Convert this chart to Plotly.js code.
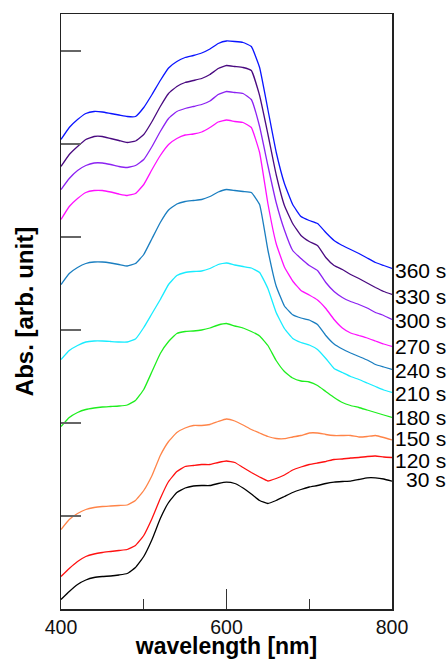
<!DOCTYPE html>
<html>
<head>
<meta charset="utf-8">
<script src="https://cdn.plot.ly/plotly-3.0.1.min.js"></script>
<style>html,body{margin:0;padding:0;background:#fff;}#chart{width:448px;height:659px;}</style>
</head>
<body>
<div id="chart"></div>
<script>
// wavelength in nm
const wavelength = [400,410,420,430,440,450,460,470,480,490,500,510,520,530,540,550,560,570,580,590,600,610,620,630,640,650,660,670,680,690,700,710,720,730,740,750,760,770,780,790,800];

// absorbance spectra (arb. unit, offset), labelled by time
const abs360 = [4.70,4.82,4.90,4.96,4.98,4.975,4.96,4.945,4.93,4.93,5.02,5.15,5.29,5.415,5.48,5.52,5.54,5.565,5.605,5.66,5.685,5.68,5.67,5.63,5.42,5.00,4.575,4.26,4.05,3.93,3.89,3.86,3.77,3.69,3.64,3.60,3.56,3.515,3.47,3.44,3.41];
const abs330 = [4.43,4.55,4.63,4.70,4.73,4.73,4.71,4.69,4.67,4.685,4.75,4.88,5.03,5.16,5.23,5.27,5.29,5.31,5.35,5.41,5.44,5.43,5.42,5.39,5.14,4.755,4.35,4.04,3.86,3.74,3.68,3.64,3.52,3.44,3.40,3.35,3.31,3.265,3.22,3.18,3.15];
const abs300 = [4.20,4.31,4.39,4.44,4.465,4.465,4.45,4.43,4.42,4.44,4.50,4.63,4.78,4.91,4.98,5.01,5.03,5.05,5.085,5.15,5.18,5.17,5.16,5.10,4.83,4.44,4.07,3.795,3.59,3.51,3.44,3.39,3.27,3.18,3.12,3.08,3.05,3.015,2.97,2.94,2.90];
const abs270 = [3.90,4.03,4.11,4.17,4.19,4.19,4.175,4.155,4.14,4.16,4.25,4.40,4.54,4.65,4.71,4.745,4.755,4.775,4.82,4.875,4.895,4.88,4.87,4.82,4.57,4.06,3.66,3.425,3.285,3.19,3.145,3.095,3.01,2.90,2.815,2.765,2.74,2.715,2.685,2.655,2.63];
const abs240 = [3.25,3.36,3.42,3.46,3.475,3.475,3.465,3.45,3.435,3.46,3.55,3.71,3.87,3.995,4.055,4.08,4.09,4.10,4.13,4.175,4.20,4.19,4.18,4.17,4.05,3.595,3.235,3.035,2.947,2.915,2.895,2.85,2.74,2.655,2.605,2.565,2.53,2.495,2.45,2.425,2.40];
const abs210 = [2.50,2.59,2.64,2.675,2.685,2.685,2.68,2.675,2.675,2.705,2.82,2.96,3.10,3.25,3.34,3.37,3.38,3.385,3.41,3.45,3.465,3.445,3.43,3.415,3.37,3.21,2.97,2.81,2.71,2.67,2.645,2.60,2.51,2.41,2.37,2.33,2.30,2.265,2.23,2.195,2.17];
const abs180 = [1.83,1.92,1.97,2.00,2.015,2.025,2.03,2.035,2.045,2.09,2.20,2.38,2.56,2.68,2.76,2.78,2.785,2.795,2.815,2.845,2.86,2.835,2.815,2.78,2.735,2.64,2.49,2.38,2.315,2.285,2.275,2.24,2.18,2.12,2.07,2.04,2.02,1.995,1.97,1.945,1.92];
const abs150 = [0.80,0.90,0.96,1.00,1.02,1.03,1.035,1.04,1.045,1.09,1.19,1.34,1.54,1.68,1.77,1.815,1.84,1.84,1.85,1.88,1.905,1.885,1.845,1.80,1.765,1.73,1.71,1.708,1.725,1.74,1.765,1.765,1.75,1.74,1.74,1.74,1.725,1.73,1.74,1.72,1.695];
const abs120 = [0.33,0.41,0.48,0.53,0.555,0.57,0.58,0.59,0.60,0.64,0.74,0.91,1.11,1.28,1.38,1.43,1.44,1.45,1.45,1.47,1.485,1.47,1.42,1.37,1.325,1.285,1.31,1.345,1.395,1.425,1.45,1.465,1.48,1.50,1.505,1.515,1.52,1.53,1.535,1.525,1.52];
const abs30  = [0.10,0.18,0.25,0.295,0.32,0.33,0.335,0.345,0.36,0.42,0.53,0.70,0.91,1.07,1.17,1.215,1.235,1.24,1.24,1.26,1.273,1.26,1.215,1.155,1.09,1.06,1.09,1.13,1.17,1.20,1.225,1.24,1.26,1.274,1.28,1.284,1.30,1.317,1.317,1.305,1.283];

const seriesLabels = ['360 s','330 s','300 s','270 s','240 s','210 s','180 s','150 s','120 s','30 s'];
const seriesValues = [abs360,abs330,abs300,abs270,abs240,abs210,abs180,abs150,abs120,abs30];
const seriesColors = ['#0a14ff','#4a0a80','#8c22f2','#ff10ff','#1a7ec0','#18ecff','#1eee1e','#ff8448','#ff1010','#000000'];
// small vertical nudges (px) of the end labels, as in the reference
const labelNudge = [-2, -2, -1, 0, -1, -1, 0, 1.5, -2.5, 1.5];

const FONT = 'Liberation Sans, Arial, Helvetica, sans-serif';

const traces = seriesValues.map((vals, i) => ({
  type: 'scatter', mode: 'lines',
  x: wavelength, y: vals,
  name: seriesLabels[i],
  line: {color: seriesColors[i], width: 1.3, shape: 'spline', smoothing: 0.35},
  hoverinfo: 'skip'
}));

const annotations = seriesValues.map((vals, i) => ({
  xref: 'paper', yref: 'y',
  x: 1.1647, y: vals[vals.length - 1], yshift: labelNudge[i],
  xanchor: 'right', yanchor: 'middle',
  text: seriesLabels[i], showarrow: false, borderpad: 0,
  font: {family: FONT, size: 21, color: '#000'}
}));

const layout = {
  width: 448, height: 659,
  margin: {l: 61, r: 56, t: 14, b: 50, pad: 0},
  paper_bgcolor: '#fff', plot_bgcolor: '#fff',
  showlegend: false,
  xaxis: {
    range: [400, 800], tickvals: [400, 600, 800], ticktext: ['400','600','800'],
    ticks: 'inside', ticklen: 20, tickwidth: 1.3, tickcolor: '#333',
    minor: {tickvals: [500, 700], ticks: 'inside', ticklen: 10, tickwidth: 1.3, tickcolor: '#333'},
    showline: true, mirror: true, linecolor: '#222', linewidth: 1.5,
    showgrid: false, zeroline: false,
    tickfont: {family: FONT, size: 19.5, color: '#111'},
    title: {text: 'wavelength [nm]', font: {family: FONT, size: 23, color: '#000', weight: 'bold'}, standoff: 3}
  },
  yaxis: {
    range: [0.005, 5.955], tick0: 0.005, dtick: 0.93,
    ticks: 'inside', ticklen: 20, tickwidth: 1.5, tickcolor: '#666',
    showticklabels: false,
    showline: true, mirror: true, linecolor: '#222', linewidth: 1.5,
    showgrid: false, zeroline: false,
    title: {text: 'Abs. [arb. unit]', font: {family: FONT, size: 24, color: '#000', weight: 'bold'}, standoff: 19}
  },
  annotations: annotations
};

Plotly.newPlot('chart', traces, layout, {displayModeBar: false, staticPlot: true});
</script>
</body>
</html>
